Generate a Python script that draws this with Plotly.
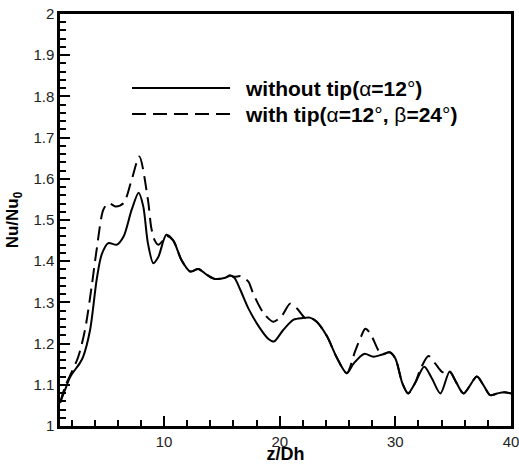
import plotly.graph_objects as go

# without tip (alpha=12)
x_solid = [1, 1.4, 1.9, 2.7, 3.0, 3.6, 4.17, 4.6, 5.18, 5.9, 6.5, 7.2, 7.8, 8.2, 8.6, 9.07, 9.5,
           10.2, 10.8, 11.5, 12.25, 12.96, 13.7, 14.4, 15.3, 15.7, 16.1, 16.6, 17.3, 18.3, 19.0,
           19.5, 20.3, 21.2, 22.0, 22.6, 23.2, 24.1, 24.9, 25.8, 26.4, 27.3, 28.1, 28.8, 29.5,
           30.0, 30.6, 31.1, 31.7, 32.5, 33.15, 33.9, 34.7, 35.3, 35.9, 37.05, 37.6, 38.2, 38.8,
           39.4, 40]
y_solid = [1.056, 1.085, 1.12, 1.152, 1.168, 1.233, 1.355, 1.416, 1.444, 1.44, 1.46, 1.525, 1.566,
           1.533, 1.444, 1.395, 1.41, 1.464, 1.45, 1.403, 1.375, 1.381, 1.367, 1.357, 1.36, 1.365,
           1.359, 1.33, 1.285, 1.237, 1.212, 1.205, 1.233, 1.258, 1.262, 1.263, 1.253, 1.217,
           1.168, 1.128, 1.152, 1.175, 1.168, 1.173, 1.179, 1.164, 1.104, 1.079, 1.104, 1.144,
           1.116, 1.079, 1.132, 1.104, 1.079, 1.12, 1.1, 1.075, 1.079, 1.082, 1.079]

# with tip (alpha=12, beta=24)
x_dash = [1, 1.5, 2.0, 2.58, 3.16, 3.74, 4.17, 4.75, 5.2, 5.8, 6.5, 7.2, 7.86, 8.6, 8.9, 9.2, 9.5,
          9.9, 10.2, 10.8, 11.5, 12.25, 12.96, 13.7, 14.4, 15.3, 15.7, 16.1, 16.6, 16.9, 17.3,
          17.7, 18.6, 19.45, 20.2, 20.9, 21.5, 22.2, 22.6, 23.2, 24.1, 24.9, 25.8, 26.5, 27.0,
          27.4, 27.8, 28.5, 28.8, 29.5, 30.0, 30.6, 31.1, 31.7, 32.2, 32.86, 33.44, 34.0, 34.45,
          34.7, 35.3, 35.9, 37.05, 37.6, 38.2, 38.8, 39.4, 40]
y_dash = [1.056, 1.1, 1.13, 1.168, 1.233, 1.339, 1.428, 1.525, 1.541, 1.533, 1.541, 1.598, 1.654,
          1.55, 1.48, 1.45, 1.44, 1.45, 1.462, 1.45, 1.403, 1.375, 1.381, 1.367, 1.357, 1.36,
          1.365, 1.362, 1.364, 1.36, 1.35, 1.322, 1.274, 1.253, 1.268, 1.297, 1.285, 1.262,
          1.263, 1.253, 1.217, 1.168, 1.128, 1.18, 1.215, 1.236, 1.226, 1.185, 1.173, 1.179,
          1.164, 1.104, 1.079, 1.104, 1.14, 1.17, 1.152, 1.132, 1.128, 1.132, 1.104, 1.079,
          1.12, 1.1, 1.075, 1.079, 1.082, 1.079]

x_ticks = [10, 20, 30, 40]
legend_labels = ["<b>without tip(</b>α<b>=12</b>°<b>)</b>",
                 "<b>with tip(</b>α<b>=12</b>°<b>, </b>β<b>=24</b>°<b>)</b>"]

DASH = "14px,7px"
FONT = "Liberation Sans, Arial, sans-serif"

fig = go.Figure()
fig.add_trace(go.Scatter(x=x_dash, y=y_dash, mode="lines", name="with tip",
                         line=dict(color="black", width=2, dash=DASH, shape="spline", smoothing=0.8)))
fig.add_trace(go.Scatter(x=x_solid, y=y_solid, mode="lines", name="without tip",
                         line=dict(color="black", width=2, shape="spline", smoothing=0.8)))

W, H = 519, 464
ml, mr, mt, mb = 60, 8, 14, 38
pw, ph = W - ml - mr, H - mt - mb

def px(xp):
    return (xp - ml) / pw

def py(yp):
    return 1 - (yp - mt) / ph

# legend sample lines + text
for yp, dash, lab in [(88, "solid", legend_labels[0]), (114, DASH, legend_labels[1])]:
    fig.add_shape(type="line", xref="paper", yref="paper", x0=px(132), x1=px(230), y0=py(yp), y1=py(yp),
                  line=dict(color="black", width=2, dash=dash))
    fig.add_annotation(xref="paper", yref="paper", x=px(243), y=py(yp), text=lab, showarrow=False,
                       xanchor="left", yanchor="middle",
                       font=dict(family=FONT, size=21, color="black"))

fig.update_layout(
    width=W, height=H,
    margin=dict(l=ml, r=mr, t=mt, b=mb),
    paper_bgcolor="white", plot_bgcolor="white",
    showlegend=False,
    font=dict(family=FONT, size=15, color="#222"),
)
fig.update_xaxes(range=[1, 40], tickvals=x_ticks, ticks="inside", ticklen=10, tickwidth=2,
                 tickcolor="black", showline=True, linecolor="black", linewidth=2.5, mirror=True,
                 showgrid=False, zeroline=False, automargin=False, ticklabeloverflow="allow",
                 minor=dict(ticks="inside", ticklen=6, tickwidth=1.5, tickcolor="black", dtick=2, tick0=0),
                 title=dict(text="<b>z/Dh</b>", font=dict(size=18, color="black"), standoff=2))
fig.update_yaxes(range=[1, 2], dtick=0.1, tick0=1, ticks="inside", ticklen=10, tickwidth=2,
                 tickcolor="black", showline=True, linecolor="black", linewidth=2.5, mirror=True,
                 showgrid=False, zeroline=False, automargin=False, ticklabeloverflow="allow",
                 minor=dict(ticks="inside", ticklen=6, tickwidth=1.5, tickcolor="black", dtick=0.02, tick0=1),
                 title=dict(text="<b>Nu/Nu<sub>0</sub></b>", font=dict(size=17, color="black"), standoff=11))

# remove the browser's default 8px body margin so the figure fills the window
fig.write_html("out.html", config={"displayModeBar": False},
               post_script="document.body.style.margin='0px';")
